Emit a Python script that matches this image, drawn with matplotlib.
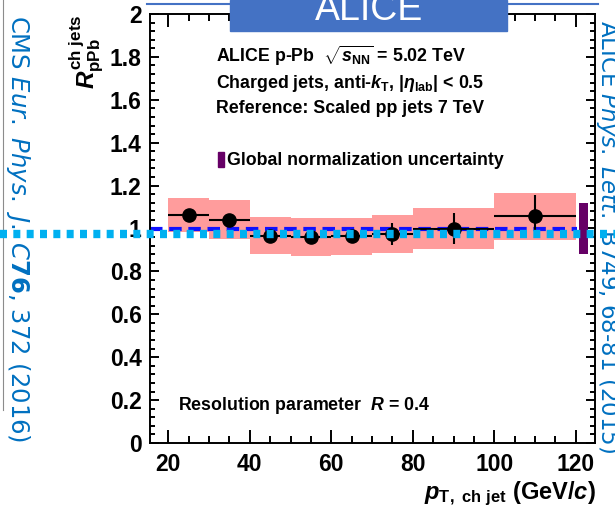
import matplotlib
matplotlib.use('Agg')
import matplotlib.pyplot as plt
from matplotlib.lines import Line2D
from matplotlib.patches import Rectangle
from matplotlib.ticker import MultipleLocator, FuncFormatter

# ALICE p-Pb charged-jet R_pPb, R = 0.4
bin_lo = [20, 30, 40, 50, 60, 70, 80, 100]
bin_hi = [30, 40, 50, 60, 70, 80, 100, 120]
r_ppb = [1.062, 1.041, 0.967, 0.960, 0.964, 0.975, 1.000, 1.056]
stat_err = [0.012, 0.012, 0.013, 0.014, 0.018, 0.05, 0.07, 0.10]
sys_err = [0.080, 0.092, 0.088, 0.087, 0.086, 0.090, 0.097, 0.110]
glob_x = 121.8
glob_unc = 0.117

W, H = 615, 505

plt.rcParams['font.family'] = 'Liberation Sans'
plt.rcParams['mathtext.fontset'] = 'custom'
plt.rcParams['mathtext.rm'] = 'Liberation Sans:bold'
plt.rcParams['mathtext.it'] = 'Liberation Sans:bold:italic'
plt.rcParams['mathtext.bf'] = 'Liberation Sans:bold'


def fx(px):
    return px / W


def fy(py):
    return 1 - py / H


fig = plt.figure(figsize=(W / 100, H / 100), dpi=100)
ax = fig.add_axes([fx(150), fy(443), fx(595) - fx(150), fy(14) - fy(443)])

centers = [(a + b) / 2 for a, b in zip(bin_lo, bin_hi)]
halfw = [(b - a) / 2 for a, b in zip(bin_lo, bin_hi)]
widths = [b - a for a, b in zip(bin_lo, bin_hi)]

ax.bar(bin_lo, [2 * s for s in sys_err], bottom=[y - s for y, s in zip(r_ppb, sys_err)],
       width=widths, align='edge', color='#ff9c9c', edgecolor='none', zorder=1)
ax.axhline(1.0, xmax=0.96, color='#1010ff', lw=3, ls=(0, (3, 1.6)), zorder=2)
ax.errorbar(centers, r_ppb, xerr=halfw, yerr=stat_err, fmt='o', color='black',
            ms=9.5, elinewidth=1.5, capsize=0, zorder=3)
ax.bar(glob_x, 2 * glob_unc, bottom=1 - glob_unc, width=2.2, color='#660066', zorder=3)

ax.set_xlim(15.5, 124.7)
ax.set_ylim(0, 2)
ax.xaxis.set_major_locator(MultipleLocator(20))
ax.xaxis.set_minor_locator(MultipleLocator(5))
ax.yaxis.set_major_locator(MultipleLocator(0.2))
ax.yaxis.set_minor_locator(MultipleLocator(0.04))
ax.yaxis.set_major_formatter(FuncFormatter(lambda v, p: '%g' % round(v, 2)))
ax.tick_params(which='both', direction='in', top=True, right=True, width=1.4,
               labelsize=16.5)
ax.tick_params(axis='x', which='major', length=9.5, pad=7)
ax.tick_params(axis='x', which='minor', length=4.7)
ax.tick_params(axis='y', which='major', length=6.5, pad=6)
ax.tick_params(axis='y', which='minor', length=3.5)
for lab in ax.get_xticklabels() + ax.get_yticklabels():
    lab.set_fontweight('bold')
for sp in ax.spines.values():
    sp.set_linewidth(1.4)

fig.text(fx(87), fy(14), r'$R^{\mathrm{ch\ jets}}_{\mathrm{pPb}}$', rotation=90,
         ha='center', va='top', fontsize=17.5)
fig.text(fx(596), fy(499), r'$p_{\mathrm{T,\ ch\ jet}}$ (GeV/$c$)', ha='right',
         va='baseline', fontsize=17, fontweight='bold')

txt = dict(fontsize=12.8, fontweight='bold', ha='left', va='baseline',
           transform=fig.transFigure)
ax.text(fx(216), fy(62), r'ALICE p-Pb  $\sqrt{s_{\mathrm{NN}}}$ = 5.02 TeV', **txt)
ax.text(fx(216), fy(88), r'Charged jets, anti-$k_{\mathrm{T}}$, $|\eta_{\mathrm{lab}}|$ < 0.5', **txt)
ax.text(fx(216), fy(113), 'Reference: Scaled pp jets 7 TeV', **txt)
ax.text(fx(227), fy(165), 'Global normalization uncertainty', **txt)
ax.text(fx(178), fy(410), r'Resolution parameter  $R$ = 0.4', **txt)
fig.patches.append(Rectangle((fx(218), fy(167)), fx(6), fy(0) - fy(15),
                             transform=fig.transFigure, color='#660066'))

# slide decorations
fig.patches.append(Rectangle((fx(230), fy(31)), fx(277), fy(0) - fy(31),
                             transform=fig.transFigure, color='#4472c4', zorder=5))
fig.text(fx(369), fy(20), 'ALICE', color='white', fontsize=27,
         ha='center', va='baseline', zorder=6)
fig.add_artist(Line2D([fx(147), fx(598)], [fy(3.5), fy(3.5)], color='#4472c4', lw=1.5))
fig.add_artist(Line2D([fx(3), fx(3)], [fy(0), fy(410)], color='#8c8c8c', lw=0.8))

side = dict(color='#0070c0', family='DejaVu Sans', math_fontfamily='dejavusans',
            rotation=-90, ha='center', va='top')
fig.text(fx(18), fy(15), r'CMS $\mathit{Eur.\ Phys.\ J.\ C}\mathbf{76}$, 372 (2016)',
         fontsize=17.5, **side)
fig.text(fx(607), fy(20), r'ALICE $\mathit{Phys.\ Lett.}$ B749, 68-81 (2015)',
         fontsize=16.5, **side)

fig.add_artist(Line2D([0, 1], [fy(233.5), fy(233.5)], color='#00b0f0', lw=6,
                      ls=(0, (0.84, 0.76)), dash_capstyle='butt', zorder=10))

fig.savefig('out.png', dpi=100)
